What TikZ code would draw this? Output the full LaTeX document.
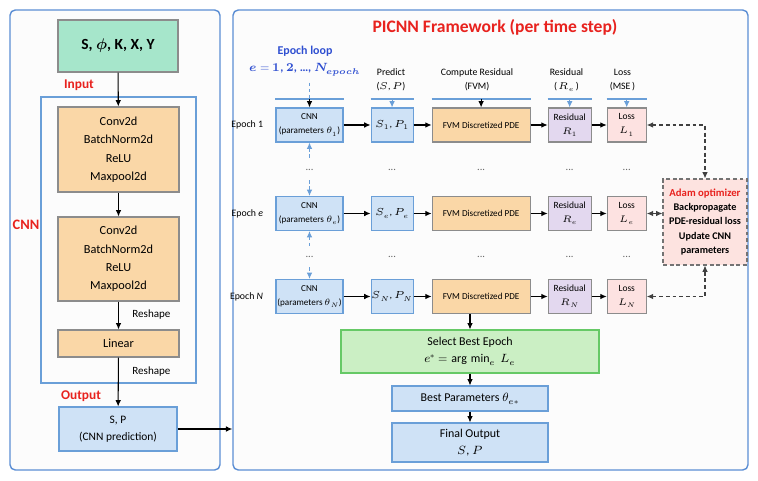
\documentclass[tikz,border=0pt]{standalone}
\usepackage{amsmath}
\usepackage{fontspec}
\usepackage{unicode-math}
\setmainfont{Carlito}
\usetikzlibrary{positioning, arrows.meta, calc}
\definecolor{frameblue}{HTML}{5B8ED4}
\definecolor{lineblue}{HTML}{6A9FD8}
\definecolor{labred}{HTML}{E8221E}
\definecolor{loopblue}{HTML}{2F4FD1}
\definecolor{inputgreen}{HTML}{A6E6CB}
\definecolor{selgreen}{HTML}{CBEFC4}
\definecolor{layerorange}{HTML}{FAD7A7}
\definecolor{predblue}{HTML}{CFE2F6}
\definecolor{respurple}{HTML}{E3D8EF}
\definecolor{losspink}{HTML}{FDE2E1}
\definecolor{adampink}{HTML}{FDE3E0}
\tikzset{
  flow/.style={
	>={Latex[length=3.6pt,width=3.2pt]}, % small filled heads
	line width=0.6pt, % all strokes
	every node/.style={font=\fontsize{7}{9}\selectfont}, % default text size
  },
  panel/.style={draw=frameblue, line width=0.8pt, rounded corners=3pt, fill=gray!2, inner sep=0pt}, % outer frames
  cnnframe/.style={draw=lineblue, inner sep=0pt}, % frame round the layers
  inbox/.style={draw=black!45, fill=inputgreen, font=\fontsize{8.8}{10}\selectfont\bfseries, minimum width=2.4cm, minimum height=1.04cm},
  layer/.style={draw=black!45, fill=layerorange, align=center, minimum width=2.42cm, font=\fontsize{7}{10.5}\selectfont, inner sep=1pt},
  outbox/.style={draw=lineblue, fill=predblue, align=center, font=\fontsize{6.5}{10}\selectfont, minimum width=2.36cm, minimum height=0.88cm},
  redlab/.style={text=labred, font=\fontsize{7.6}{9}\selectfont\bfseries}, % Input, CNN, Output
  small/.style={font=\fontsize{6.3}{8}\selectfont}, % reshape notes
  cell/.style={draw=lineblue, fill=predblue, align=center, minimum height=0.68cm, inner sep=0.5pt, font=\fontsize{5.2}{8}\selectfont},
  cnncell/.style={cell, minimum width=1.34cm},
  predcell/.style={cell, minimum width=0.84cm, font=\fontsize{5.8}{8}\selectfont},
  fvmcell/.style={cell, draw=black!45, fill=layerorange, minimum width=1.96cm},
  rescell/.style={cell, draw=black!45, fill=respurple, minimum width=0.86cm, font=\fontsize{5.4}{8}\selectfont},
  losscell/.style={cell, draw=black!45, fill=losspink, minimum width=0.78cm, font=\fontsize{5.4}{8}\selectfont},
  rowlab/.style={font=\fontsize{5.6}{7}\selectfont},
  colhead/.style={align=center, font=\fontsize{5.6}{8}\selectfont},
  dots/.style={text=black!60, font=\fontsize{6}{7}\selectfont, minimum height=0.38cm, inner sep=0pt},
  hline/.style={draw=lineblue, line width=0.7pt},
  hdarrow/.style={->, draw=lineblue},
  loopline/.style={draw=lineblue, dash pattern=on 2pt off 1.5pt},
  optarrow/.style={<->, draw=black!75, dash pattern=on 2.2pt off 1.6pt},
  adambox/.style={draw=black!55, dash pattern=on 2.2pt off 1.6pt, fill=adampink, align=center, font=\fontsize{5.8}{8}\selectfont\bfseries, minimum width=1.68cm, minimum height=1.72cm, inner sep=0pt},
  selbox/.style={draw=black!35!green!60, fill=selgreen, align=center, font=\fontsize{6.8}{9.5}\selectfont, minimum width=5.16cm, minimum height=0.86cm},
  bestbox/.style={draw=lineblue, fill=predblue, align=center, font=\fontsize{6.8}{9.5}\selectfont, minimum width=3.12cm},
}

\begin{document}
\begin{tikzpicture}[flow]
\useasboundingbox (0,0) rectangle (15.16,-9.62);

% frames
\node[panel, minimum width=4.2cm, minimum height=9.2cm] (lpanel) at (2.3,-4.8) {};
\node[panel, minimum width=10.3cm, minimum height=9.2cm] (rpanel) at (9.81,-4.8) {};

% ---- left: the CNN ----
\node[inbox] (in) at (2.36,-0.92) {S, $\symbfit{\phi}$, K, X, Y};
\node[redlab] (inlab) at (1.58,-1.7) {Input};
\node[cnnframe, minimum width=3.1cm, minimum height=5.72cm] (cnnbox) at (2.37,-4.8) {};
\node[redlab, font=\fontsize{8.2}{9}\selectfont\bfseries] (cnnlab) at (0.52,-4.5) {CNN};
\node[layer, minimum height=1.7cm] (conv1) at (2.37,-2.99) {Conv2d\\BatchNorm2d\\ReLU\\Maxpool2d};
\node[layer, minimum height=1.68cm] (conv2) at (2.37,-5.18) {Conv2d\\BatchNorm2d\\ReLU\\Maxpool2d};
\node[layer, minimum height=0.54cm] (lin) at (2.37,-6.87) {Linear};
\node[small, anchor=west] (rs1) at (2.52,-6.3) {Reshape};
\node[small, anchor=west] (rs2) at (2.52,-7.44) {Reshape};
\node[redlab] (outlab) at (1.62,-7.92) {Output};
\node[outbox] (out) at (2.36,-8.58) {S, P\\(CNN prediction)};

\draw[->] (in) -- (conv1);
\draw[->] (conv1) -- (conv2);
\draw[->] (conv2) -- (lin);
\draw[->] (lin) -- (out);
\draw[->] (out.east) -- (out.east -| rpanel.west);

% ---- right: training loop ----
\node[text=labred, font=\fontsize{10}{12}\selectfont\bfseries] (title) at (9.9,-0.54) {PICNN Framework (per time step)};
\node[text=loopblue, align=center, font=\fontsize{6.8}{10}\selectfont\bfseries] (loop) at (6.1,-1.22) {Epoch loop\\$\symbfit{e} = \symbf{1}$, $\symbf{2}$, \dots, $\symbfit{N}_{\symbfit{epoch}}$};
\node[colhead] (hpred) at (7.82,-1.6) {Predict\\($S$, $P$)};
\node[colhead] (hfvm) at (9.54,-1.6) {Compute Residual\\(FVM)};
\node[colhead] (hres) at (11.33,-1.6) {Residual\\(\,$R_e$\,)};
\node[colhead] (hloss) at (12.45,-1.6) {Loss\\(MSE\,)};
\coordinate (hl) at (0,-1.98);
\coordinate (dotrow1) at (0,-3.4);
\coordinate (dotrow2) at (0,-5.14);

% epoch 1
\node[cnncell] (cnn1) at (6.19,-2.5) {CNN\\(parameters $\theta_1$)};
\node[predcell, right=0.54cm of cnn1] (pred1) {$S_1$, $P_1$};
\node[fvmcell, right=0.36cm of pred1] (fvm1) {FVM Discretized PDE};
\node[rescell, right=0.34cm of fvm1] (res1) {Residual\\$R_1$};
\node[losscell, right=0.3cm of res1] (loss1) {Loss\\$L_1$};
\node[rowlab, left=0.12cm of cnn1] (ep1) {Epoch 1};

% epoch e
\node[cnncell] (cnne) at (6.19,-4.27) {CNN\\(parameters $\theta_e$)};
\node[predcell] (prede) at (pred1 |- cnne) {$S_e$, $P_e$};
\node[fvmcell] (fvme) at (fvm1 |- cnne) {FVM Discretized PDE};
\node[rescell] (rese) at (res1 |- cnne) {Residual\\$R_e$};
\node[losscell] (losse) at (loss1 |- cnne) {Loss\\$L_e$};
\node[rowlab, left=0.12cm of cnne] (epe) {Epoch \textit{e}};

% epoch N
\node[cnncell] (cnnN) at (6.19,-5.93) {CNN\\(parameters $\theta_N$)};
\node[predcell] (predN) at (pred1 |- cnnN) {$S_N$, $P_N$};
\node[fvmcell] (fvmN) at (fvm1 |- cnnN) {FVM Discretized PDE};
\node[rescell] (resN) at (res1 |- cnnN) {Residual\\$R_N$};
\node[losscell] (lossN) at (loss1 |- cnnN) {Loss\\$L_N$};
\node[rowlab, left=0.12cm of cnnN] (epN) {Epoch \textit{N}};

% dots between rows
\node[dots] (da1) at (cnn1 |- dotrow1) {...};
\node[dots] (db1) at (pred1 |- dotrow1) {...};
\node[dots] (dc1) at (fvm1 |- dotrow1) {...};
\node[dots] (dd1) at (res1 |- dotrow1) {...};
\node[dots] (de1) at (loss1 |- dotrow1) {...};
\node[dots] (da2) at (cnn1 |- dotrow2) {...};
\node[dots] (db2) at (pred1 |- dotrow2) {...};
\node[dots] (dc2) at (fvm1 |- dotrow2) {...};
\node[dots] (dd2) at (res1 |- dotrow2) {...};
\node[dots] (de2) at (loss1 |- dotrow2) {...};

% header rules
\draw[hline] (cnn1.west |- hl) -- (cnn1.east |- hl);
\draw[hline] (pred1.west |- hl) -- (pred1.east |- hl);
\draw[hline] (fvm1.west |- hl) -- (fvm1.east |- hl);
\draw[hline] (res1.west |- hl) -- (res1.east |- hl);
\draw[hline] (loss1.west |- hl) -- (loss1.east |- hl);
\draw[loopline] (cnn1 |- loop.south) -- (cnn1.north |- hl);
\draw[->] (cnn1.north |- hl) -- (cnn1.north);
\draw[hdarrow] (pred1.north |- hl) -- (pred1.north);
\draw[->] (fvm1.north |- hl) -- (fvm1.north);
\draw[hdarrow] (res1.north |- hl) -- (res1.north);
\draw[hdarrow] (loss1.north |- hl) -- (loss1.north);

% epoch loop links
\draw[loopline, <-] (cnn1.south) -- (da1.north);
\draw[loopline, ->] (da1.south) -- (cnne.north);
\draw[loopline, <-] (cnne.south) -- (da2.north);
\draw[loopline, ->] (da2.south) -- (cnnN.north);

% row flows
\draw[->] (cnn1) -- (pred1);
\draw[->] (pred1) -- (fvm1);
\draw[->] (fvm1) -- (res1);
\draw[->] (res1) -- (loss1);
\draw[->] (cnne) -- (prede);
\draw[->] (prede) -- (fvme);
\draw[->] (fvme) -- (rese);
\draw[->] (rese) -- (losse);
\draw[->] (cnnN) -- (predN);
\draw[->] (predN) -- (fvmN);
\draw[->] (fvmN) -- (resN);
\draw[->] (resN) -- (lossN);

% optimizer
\node[adambox] (adam) at (14.1,-4.44) {{\color{labred}\fontsize{6.1}{8}\selectfont Adam optimizer}\\Backpropagate\\PDE-residual loss\\Update CNN\\parameters};
\draw[optarrow] (loss1.east) -| (adam.north);
\draw[optarrow] (losse.east) -- (losse.east -| adam.west);
\draw[optarrow] (lossN.east) -| (adam.south);

% selection
\node[selbox] (sel) at (9.4,-7.03) {Select Best Epoch\\$e^{*} = \arg\,\min\nolimits_e\, L_e$};
\node[bestbox, minimum height=0.5cm] (best) at (9.4,-7.97) {Best Parameters $\theta_{e*}$};
\node[bestbox, minimum height=0.78cm] (fin) at (9.4,-8.85) {Final Output\\$S$, $P$};
\draw[->] (fvmN.south -| sel.north) -- (sel.north);
\draw[->] (sel) -- (best);
\draw[->] (best) -- (fin);
\end{tikzpicture}
\end{document}
